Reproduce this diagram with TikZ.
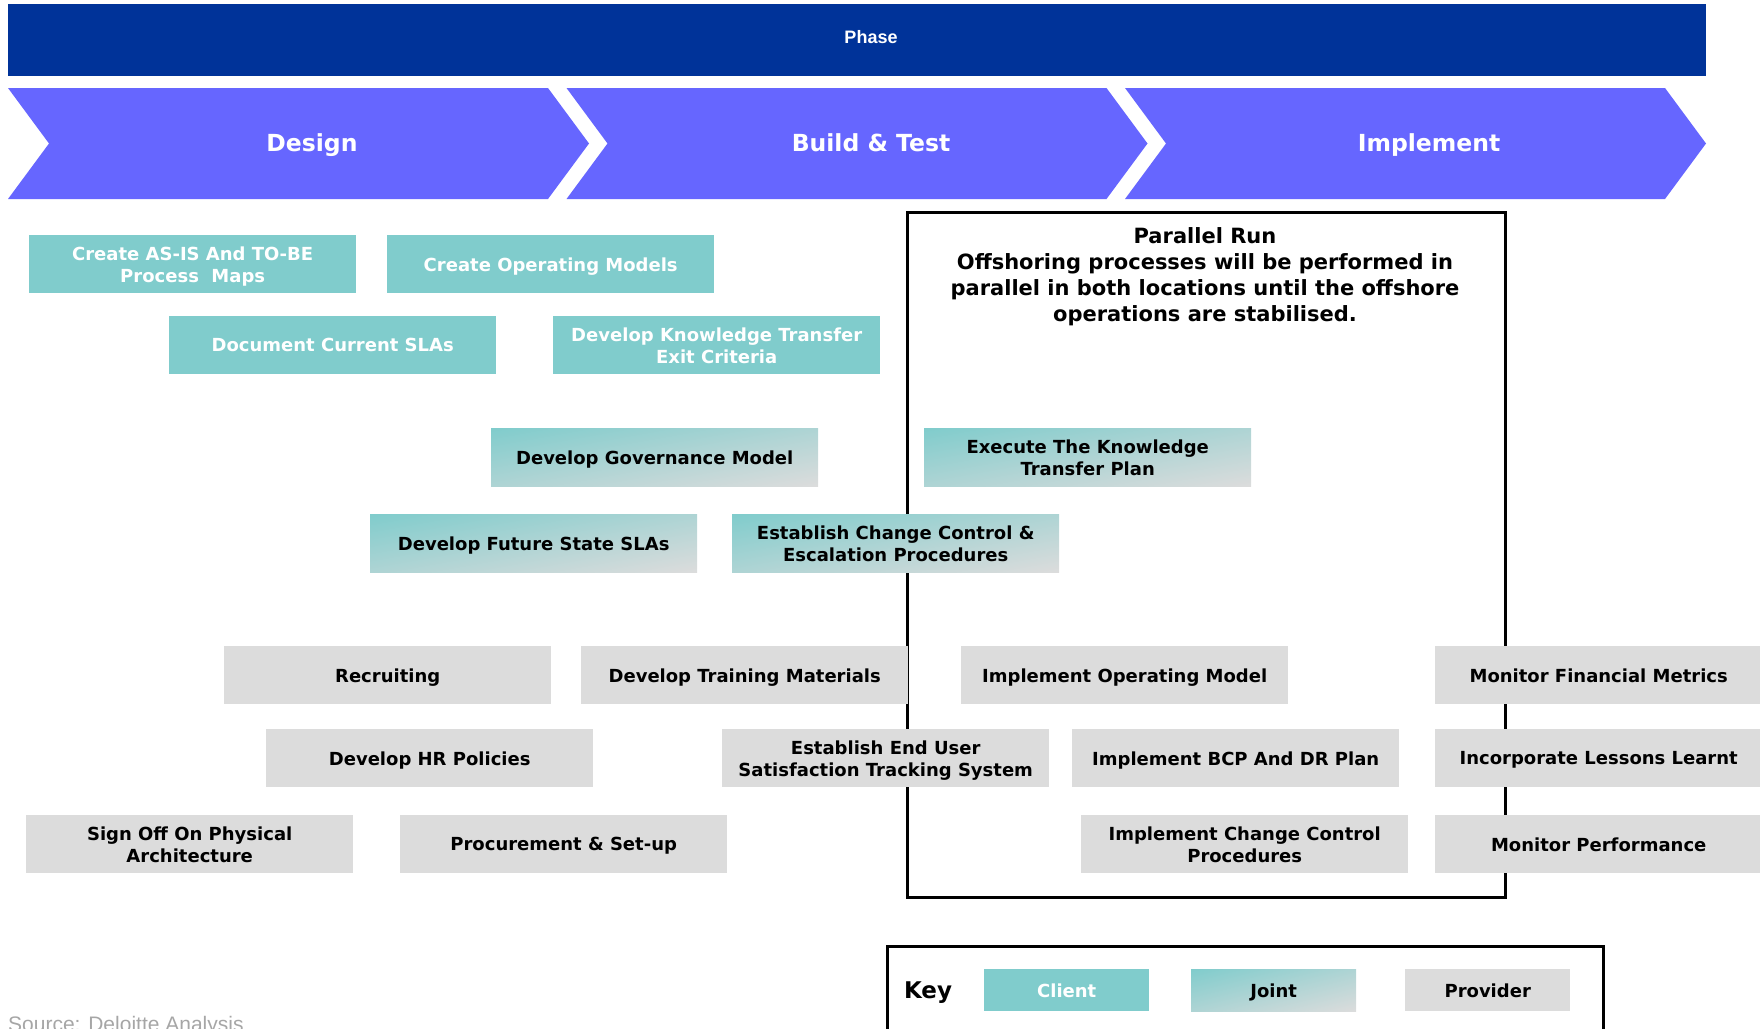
\documentclass[tikz,border=0pt]{standalone}
\usepackage{fontspec}
\setmainfont{DejaVu Sans}
\newfontfamily\arialf{Liberation Sans}
\definecolor{phaseblue}{HTML}{003399}
\definecolor{chevblue}{HTML}{6666FF}
\definecolor{clientteal}{HTML}{80CCCC}
\definecolor{provgrey}{HTML}{DCDCDC}
\definecolor{srcgrey}{HTML}{A6A6A6}
% diagonal teal (top-left) to grey (bottom-right) shading over the whole box
\pgfdeclarefunctionalshading{jointshade}{\pgfpoint{0bp}{0bp}}{\pgfpoint{100bp}{100bp}}{}{
  75 exch sub exch 25 sub add 100 div
  dup 0 lt {pop 0} if dup 1 gt {pop 1} if
  dup 0.361 mul 0.502 add
  exch dup 0.063 mul 0.8 add
  exch 0.063 mul 0.8 add
}
\begin{document}
\begin{tikzpicture}[x=1pt,y=-1pt,
  box/.style={draw=none, inner sep=0pt, minimum width=327pt, minimum height=58pt, text depth=0pt,
    anchor=north west, align=center, font=\bfseries\fontsize{18}{22}\selectfont},
  client/.style={box, fill=clientteal, text=white},
  joint/.style={box, shading=jointshade, text=black},
  provider/.style={box, fill=provgrey, text=black},
  chevlabel/.style={text=white, inner sep=0pt, anchor=base, font=\bfseries\fontsize{23.5}{28}\selectfont},
  keybox/.style={inner sep=0pt, minimum width=165pt, minimum height=42pt, anchor=north west, text depth=0pt,
    font=\bfseries\fontsize{18}{22}\selectfont},
  frame/.style={draw=black, line width=2.5pt, inner sep=0pt, anchor=north west},
]
\useasboundingbox (0,0) rectangle (1760,1028);

% Phase bar
\fill[phaseblue] (8,4) rectangle (1706,76);
\node[text=white, font=\arialf\bfseries\fontsize{18}{22}\selectfont] (phase) at (871,37) {Phase};

% Chevrons
\foreach \o in {0,558.5,1117}{
  \fill[chevblue] (8+\o,88) -- (548+\o,88) -- (589+\o,143.5) -- (548+\o,199)
     -- (8+\o,199) -- (49+\o,143.5) -- cycle;
}
\node[chevlabel] (design) at (312,151) {Design};
\node[chevlabel] (build) at (871,151) {Build \& Test};
\node[chevlabel] (impl) at (1429,151) {Implement};

% Parallel run frame
\node[frame, minimum width=598pt, minimum height=685pt] (prun) at (906,211) {};
\node[anchor=north, align=center, inner sep=0pt, font=\bfseries\fontsize{21}{26}\selectfont] (pruntext) at (1205,227)
  {Parallel Run\\Offshoring processes will be performed in\\parallel in both locations until the offshore\\operations are stabilised.};

% Client
\node[client] (c1) at (29,235) {Create AS-IS And TO-BE\\Process\ \ Maps};
\node[client] (c2) at (387,235) {Create Operating Models};
\node[client] (c3) at (169,316) {Document Current SLAs};
\node[client] (c4) at (553,316) {Develop Knowledge Transfer\\Exit Criteria};

% Joint
\node[joint] (j1) at (491,428) {Develop Governance Model};
\node[joint] (j4) at (924,428) {Execute The Knowledge\\Transfer Plan};
\node[joint] (j2) at (370,514) {Develop Future State SLAs};
\node[joint] (j3) at (732,514) {Establish Change Control \&\\Escalation Procedures};

% Provider
\node[provider] (p1) at (224,646) {Recruiting};
\node[provider] (p2) at (581,646) {Develop Training Materials};
\node[provider] (p7) at (961,646) {Implement Operating Model};
\node[provider] (p10) at (1435,646) {Monitor Financial Metrics};
\node[provider] (p3) at (266,729) {Develop HR Policies};
\node[provider] (p4) at (722,729) {Establish End User\\Satisfaction Tracking System};
\node[provider] (p8) at (1072,729) {Implement BCP And DR Plan};
\node[provider] (p11) at (1435,729) {Incorporate Lessons Learnt};
\node[provider] (p5) at (26,815) {Sign Off On Physical\\Architecture};
\node[provider] (p6) at (400,815) {Procurement \& Set-up};
\node[provider] (p9) at (1081,815) {Implement Change Control\\Procedures};
\node[provider] (p12) at (1435,815) {Monitor Performance};

% Key
\node[frame, minimum width=716pt, minimum height=120pt] (keyframe) at (886,945) {};
\node[inner sep=0pt, font=\bfseries\fontsize{23}{28}\selectfont] (keylbl) at (928,993) {Key};
\node[keybox, fill=clientteal, text=white] (kclient) at (984,969) {Client};
\node[keybox, shading=jointshade, text=black] (kjoint) at (1191,969) {Joint};
\node[keybox, fill=provgrey, text=black] (kprov) at (1405,969) {Provider};

% Source
\node[anchor=base west, inner sep=0pt, text=srcgrey, font=\arialf\fontsize{21}{25}\selectfont] (src) at (8,1031) {Source: Deloitte Analysis};
\end{tikzpicture}
\end{document}
